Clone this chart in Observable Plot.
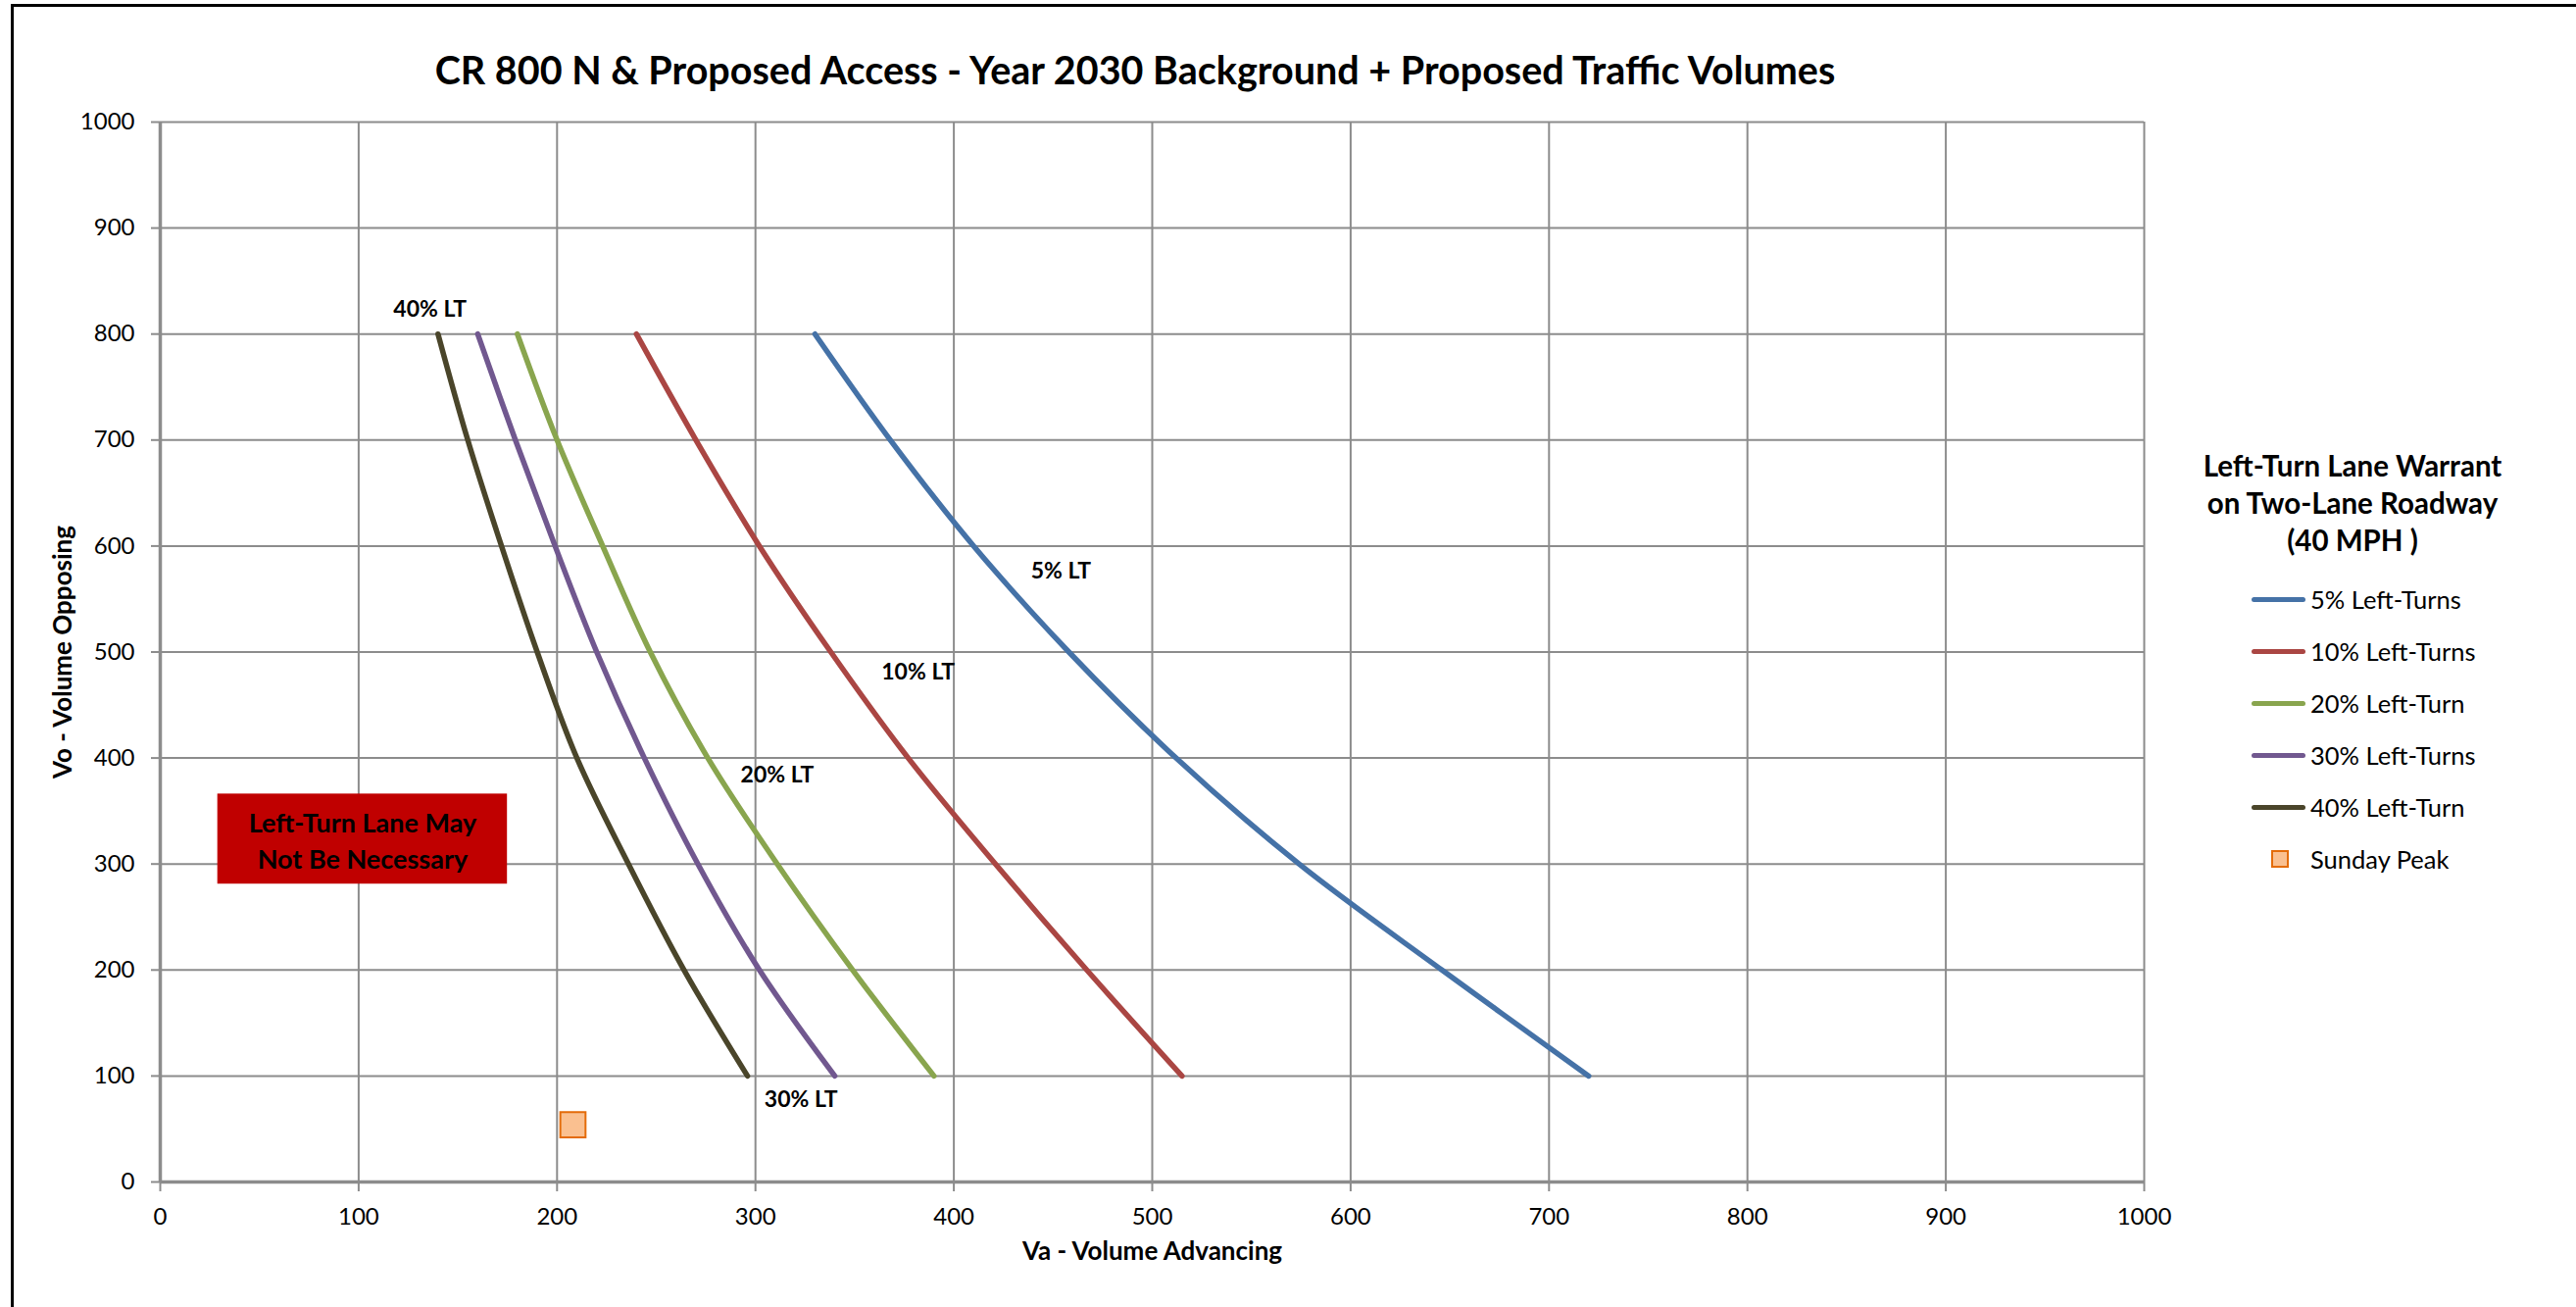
<!DOCTYPE html>
<html>
<head>
<meta charset="utf-8">
<script src="https://cdn.jsdelivr.net/npm/d3@7"></script>
<script src="https://cdn.jsdelivr.net/npm/@observablehq/plot@0.6"></script>
<style>
  html, body { margin: 0; padding: 0; background: #fff; }
  #chart { position: relative; width: 2628px; height: 1333px; overflow: hidden; font-family: Lato, "Open Sans", sans-serif; color: #000; }
  #border { position: absolute; left: 11px; top: 4px; width: 2700px; height: 1400px; border-left: 3.5px solid #000; border-top: 3.5px solid #000; }
  #title { position: absolute; top: 47px; left: 1158px; transform: translateX(-50%); white-space: nowrap; font-weight: 700; font-size: 39.5px; }
  #plot { position: absolute; left: 0; top: 0; }
  #legend { position: absolute; left: 2240px; top: 456px; width: 320px; }
  #legend .ltitle { text-align: center; font-weight: 700; font-size: 29.5px; line-height: 38px; }
  .item { position: absolute; left: 57px; height: 30px; display: flex; align-items: center; font-size: 25.5px; white-space: nowrap; }
  .sw { width: 55px; height: 5px; border-radius: 3px; margin-right: 5px; }
  .sq { width: 14px; height: 14px; border: 2px solid #E46C0A; background: #FAC090; margin: 0 22px 0 20px; }
</style>
</head>
<body>
<div id="chart">
  <div id="border"></div>
  <div id="title"></div>
  <div id="plot"></div>
  <div id="legend"></div>
</div>
<script>
// ---------- data ----------
const chartTitle = "CR 800 N & Proposed Access - Year 2030 Background + Proposed Traffic Volumes";
const xTitle = "Va - Volume Advancing";
const yTitle = "Vo - Volume Opposing";
const legendTitle = ["Left-Turn Lane Warrant", "on Two-Lane Roadway", "(40 MPH )"];
const xTicks = [0, 100, 200, 300, 400, 500, 600, 700, 800, 900, 1000];
const yTicks = [0, 100, 200, 300, 400, 500, 600, 700, 800, 900, 1000];

// Vo (opposing volume) at which each curve was read
const opposing = [800, 700, 600, 500, 400, 300, 200, 100];
// Va (advancing volume) for each curve at those Vo values
const lt5  = [330, 368, 410, 458, 512, 574, 646, 720];
const lt10 = [240, 270, 302, 338, 377, 421, 467, 515];
const lt20 = [180, 200, 223, 247, 276, 311, 349, 390];
const lt30 = [160, 179, 199, 220, 244, 271, 302, 340];
const lt40 = [140, 155, 172, 190, 210, 236, 264, 296];

const seriesNames = ["5% Left-Turns", "10% Left-Turns", "20% Left-Turn", "30% Left-Turns", "40% Left-Turn"];
const seriesValues = [lt5, lt10, lt20, lt30, lt40];
const seriesColors = ["#4572A7", "#AA4643", "#89A54E", "#71588F", "#4A452A"];

// curve labels (text, Va, Vo)
const curveLabels = ["5% LT", "10% LT", "20% LT", "30% LT", "40% LT"];
const curveLabelVa = [454, 382, 311, 323, 136];
const curveLabelVo = [576, 481, 384, 78, 823];

// observed point
const pointName = "Sunday Peak";
const pointVa = [208];
const pointVo = [54];

// annotation box
const noteText = "Left-Turn Lane May\nNot Be Necessary";
const noteBox = {va1: 29, va2: 175, vo1: 281, vo2: 366};

// ---------- build ----------
const lines = seriesNames.flatMap((name, i) =>
  opposing.map((vo, j) => ({name, va: seriesValues[i][j], vo})));
const labels = curveLabels.map((t, i) => ({t, va: curveLabelVa[i], vo: curveLabelVo[i]}));
const points = pointVa.map((va, i) => ({va, vo: pointVo[i]}));

document.getElementById("title").textContent = chartTitle;

const gridColor = "#8c8c8c";
const fmt = d => String(d);
const plot = Plot.plot({
  width: 2628,
  height: 1333,
  marginLeft: 163,
  marginRight: 441,
  marginTop: 124,
  marginBottom: 128,
  style: {fontFamily: "Lato, 'Open Sans', sans-serif", fontSize: "24px", background: "transparent", color: "#000"},
  x: {domain: [0, 1000]},
  y: {domain: [0, 1000]},
  color: {domain: seriesNames, range: seriesColors},
  marks: [
    Plot.gridX(xTicks, {stroke: gridColor, strokeOpacity: 1, strokeWidth: 2}),
    Plot.gridY(yTicks, {stroke: gridColor, strokeOpacity: 1, strokeWidth: 2}),
    Plot.axisX({ticks: xTicks, tickFormat: fmt, tickSize: 10, tickPadding: 16, stroke: gridColor, strokeWidth: 2, label: null, fontSize: 24}),
    Plot.axisY({ticks: yTicks, tickFormat: fmt, tickSize: 9, tickPadding: 17, stroke: gridColor, strokeWidth: 2, label: null, fontSize: 24}),
    Plot.ruleX([0], {stroke: gridColor, strokeWidth: 3.5}),
    Plot.ruleY([0], {stroke: gridColor, strokeWidth: 3.5}),
    Plot.rect([noteBox], {x1: "va1", x2: "va2", y1: "vo1", y2: "vo2", fill: "#C00000"}),
    Plot.text([noteText], {x: (noteBox.va1 + noteBox.va2) / 2, y: (noteBox.vo1 + noteBox.vo2) / 2, fontSize: 27, fontWeight: "bold", fill: "#000", lineHeight: 1.35}),
    Plot.line(lines, {x: "va", y: "vo", z: "name", stroke: "name", strokeWidth: 5.5, curve: "catmull-rom", strokeLinecap: "round"}),
    Plot.text(labels, {x: "va", y: "vo", text: "t", fontSize: 23, fontWeight: "bold", fill: "#000"}),
    Plot.dot(points, {x: "va", y: "vo", symbol: "square", r: 14.5, fill: "#FAC090", stroke: "#E46C0A", strokeWidth: 2}),
    Plot.text([xTitle], {frameAnchor: "bottom", dy: 79, fontSize: 26, fontWeight: "bold", fill: "#000"}),
    Plot.text([yTitle], {frameAnchor: "left", textAnchor: "middle", dx: -99, rotate: -90, fontSize: 26, fontWeight: "bold", fill: "#000"})
  ]
});
document.getElementById("plot").appendChild(plot);

// legend
const legend = document.getElementById("legend");
const lt = document.createElement("div");
lt.className = "ltitle";
lt.innerHTML = legendTitle.map(s => s.replace(/&/g, "&amp;")).join("<br>");
legend.appendChild(lt);
const itemTop = 140, itemStep = 53;
seriesNames.forEach((name, i) => {
  const d = document.createElement("div");
  d.className = "item";
  d.style.top = (itemTop + i * itemStep) + "px";
  const sw = document.createElement("div");
  sw.className = "sw";
  sw.style.background = seriesColors[i];
  const tx = document.createElement("span");
  tx.textContent = name;
  d.appendChild(sw); d.appendChild(tx);
  legend.appendChild(d);
});
{
  const d = document.createElement("div");
  d.className = "item";
  d.style.top = (itemTop + seriesNames.length * itemStep) + "px";
  const sq = document.createElement("div");
  sq.className = "sq";
  const tx = document.createElement("span");
  tx.textContent = pointName;
  d.appendChild(sq); d.appendChild(tx);
  legend.appendChild(d);
}
</script>
</body>
</html>
